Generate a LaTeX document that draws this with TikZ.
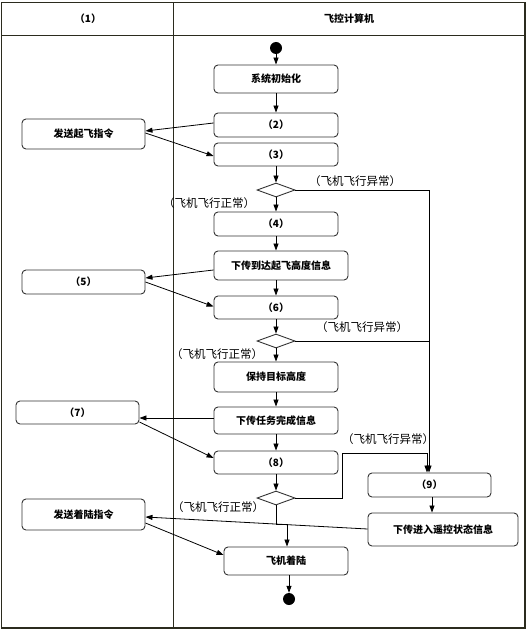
\documentclass[tikz,border=0pt]{standalone}
\usepackage{fontspec}
\setmainfont{Noto Sans CJK SC}
\usetikzlibrary{arrows.meta,shapes.geometric}
\definecolor{frame}{HTML}{2B2B1E}
\definecolor{boxline}{HTML}{333333}
\tikzset{
  box/.style={draw=boxline, line width=0.9pt, rounded corners=4pt, inner sep=0pt, font=\fontsize{10}{10}\selectfont\bfseries},
  dec/.style={draw=boxline, line width=0.9pt, diamond, aspect=2.7, minimum width=38pt, minimum height=14pt, inner sep=0pt},
  dot/.style={circle, fill=black, minimum size=12pt, inner sep=0pt},
  flow/.style={draw=black, line width=0.8pt, -{Triangle[length=7pt,width=5pt]}},
  plain/.style={draw=black, line width=0.8pt},
  cond/.style={font=\fontsize{11.5}{11.5}\selectfont, inner sep=0pt},
  hdr/.style={font=\fontsize{10}{10}\selectfont\bfseries, inner sep=0pt}
}
\begin{document}
\begin{tikzpicture}[x=1pt,y=-1pt]
\useasboundingbox (0,0) rectangle (527,631);
% frame and lanes
\draw[frame, line width=1.5pt] (1.5,2.5) rectangle (525,628);
\draw[frame, line width=1pt] (1.5,36) -- (525,36);
\draw[frame, line width=1pt] (173,2.5) -- (173,628);
\node[hdr] (h1) at (88,19) {（1）};
\node[hdr] (h2) at (349,19) {飞控计算机};
% nodes
\node[dot] (start) at (276,48) {};
\node[box, minimum width=124pt, minimum height=28pt] (init) at (276,79) {系统初始化};
\node[box, minimum width=124pt, minimum height=24pt] (n2) at (276,125) {（2）};
\node[box, minimum width=124pt, minimum height=23pt] (n3) at (276,154.5) {（3）};
\node[box, minimum width=123pt, minimum height=30pt] (send) at (83.5,134) {发送起飞指令};
\node[dec] (d1) at (276,190) {};
\node[box, minimum width=124pt, minimum height=24pt] (n4) at (276,224) {（4）};
\node[box, minimum width=134pt, minimum height=29pt] (dl) at (281,265.5) {下传到达起飞高度信息};
\node[box, minimum width=123pt, minimum height=24pt] (n5) at (83.5,282) {（5）};
\node[box, minimum width=124pt, minimum height=23pt] (n6) at (276,307.5) {（6）};
\node[dec] (d2) at (276,341) {};
\node[box, minimum width=124pt, minimum height=30pt] (keep) at (276,377) {保持目标高度};
\node[box, minimum width=123pt, minimum height=23pt] (n7) at (77.5,412.5) {（7）};
\node[box, minimum width=124pt, minimum height=27pt] (task) at (276,420.5) {下传任务完成信息};
\node[box, minimum width=124pt, minimum height=23pt] (n8) at (276,462.5) {（8）};
\node[dec] (d3) at (276,498) {};
\node[box, minimum width=123pt, minimum height=24pt] (n9) at (429.5,485) {（9）};
\node[box, minimum width=150pt, minimum height=33pt] (rc) at (443,529.5) {下传进入遥控状态信息};
\node[box, minimum width=124pt, minimum height=28pt] (land) at (286,561) {飞机着陆};
\node[box, minimum width=123pt, minimum height=31pt] (sendl) at (83.5,514.5) {发送着陆指令};
\node[dot] (end) at (289,599) {};
% condition labels
\node[cond] (c1) at (355,181) {（飞机飞行异常）};
\node[cond] (c2) at (209,203) {（飞机飞行正常）};
\node[cond] (c3) at (362,327) {（飞机飞行异常）};
\node[cond] (c4) at (217,354) {（飞机飞行正常）};
\node[cond] (c5) at (388,439) {（飞机飞行异常）};
\node[cond] (c6) at (218,507) {（飞机飞行正常）};
% main flow
\draw[flow] (start) -- (init);
\draw[flow] (init) -- (n2);
\draw[flow] (n3) -- (d1);
\draw[flow] (d1) -- (n4);
\draw[flow] (n4) -- (n4.south |- dl.north);
\draw[flow] (dl.south -| n6) -- (n6);
\draw[flow] (n6) -- (d2);
\draw[flow] (d2) -- (keep);
\draw[flow] (keep) -- (task);
\draw[flow] (task) -- (n8);
\draw[flow] (n8) -- (d3);
% lane exchanges (yshift is in canvas direction: positive = up)
\draw[flow] ([yshift=2pt]n2.west) -- ([yshift=3pt]send.east);
\draw[flow] ([yshift=1pt]send.east) -- ([yshift=-1.5pt]n3.west);
\draw[flow] ([yshift=-4.5pt]dl.west) -- ([yshift=4pt]n5.east);
\draw[flow] (n5.east) -- ([yshift=1pt]n6.west);
\draw[flow] ([yshift=2.5pt]task.west) -- ([yshift=-5.5pt]n7.east);
\draw[flow] ([yshift=-9.5pt]n7.east) -- ([yshift=4.5pt]n8.west);
\draw[flow] ([yshift=0.5pt]rc.west) -- ([yshift=-2.5pt]sendl.east);
\draw[flow] ([yshift=-8.5pt]sendl.east) -- ([yshift=6pt]land.west);
% abnormal branches
\coordinate (j1) at (429,190);
\draw[flow] (d1.east) -- (j1) -- (j1 |- n9.north);
\draw[plain] (d2.east) -- (d2.east -| j1);
\coordinate (k1) at (342,498);
\coordinate (k2) at (342,453);
\coordinate (k3) at (427,453);
\draw[flow] (d3.east) -- (k1) -- (k2) -- (k3) -- (k3 |- n9.north);
\draw[flow] (n9.south -| rc) ++(-11,0) coordinate (m1) (m1) -- (m1 |- rc.north);
% normal landing branch
\coordinate (p1) at (276,524);
\coordinate (p2) at (287,524);
\draw[flow] (d3.south) -- (p1) -- (p2) -- (p2 |- land.north);
\coordinate (q1) at (289,575);
\draw[flow] (q1 |- land.south) -- (end);
\end{tikzpicture}
\end{document}
